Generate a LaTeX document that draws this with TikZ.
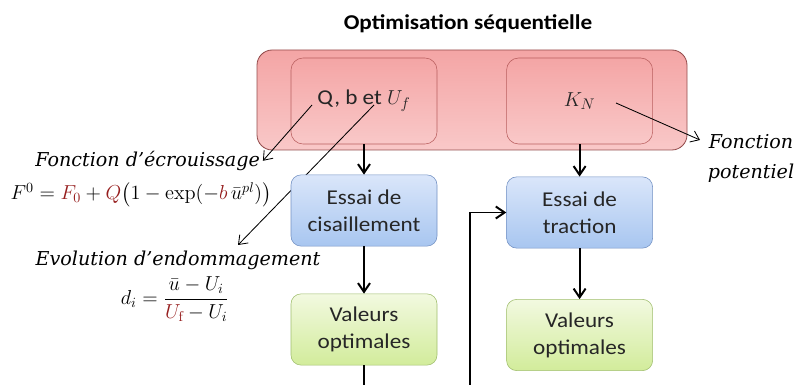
\documentclass[tikz,border=0pt]{standalone}
\usepackage{amsmath}
\usepackage{fontspec}
\newfontfamily\calibri[FakeStretch=1.1]{Carlito}
\newfontfamily\notefont{DejaVu Serif}
\usetikzlibrary{arrows.meta}
\definecolor{darkred}{RGB}{150,30,30}
\definecolor{redline}{RGB}{185,95,95}
\definecolor{redtop}{RGB}{244,165,165}
\definecolor{redbot}{RGB}{249,200,200}
\definecolor{blueline}{RGB}{115,145,195}
\definecolor{bluetop}{RGB}{218,230,250}
\definecolor{bluebot}{RGB}{168,198,240}
\definecolor{greenline}{RGB}{160,190,110}
\definecolor{greentop}{RGB}{242,249,224}
\definecolor{greenbot}{RGB}{210,236,155}

\begin{document}
\begin{tikzpicture}[
    box/.style={draw, rounded corners=0.25cm, minimum width=3.65cm, minimum height=1.78cm, align=center, text=black!85, font=\calibri\fontsize{15}{19.2}\selectfont},
    redbox/.style={box, draw=redline, top color=redtop, bottom color=redbot, rounded corners=0.3cm, minimum height=2.15cm},
    bluebox/.style={box, draw=blueline, top color=bluetop, bottom color=bluebot},
    greenbox/.style={box, draw=greenline, top color=greentop, bottom color=greenbot},
    note/.style={font=\notefont\fontsize{13.6}{21.3}\selectfont\itshape, align=center, inner sep=0pt},
    formula/.style={font=\fontsize{14.5}{18}\selectfont, inner sep=0pt},
    arrow/.style={-{Straight Barb[length=2.2mm, width=3mm]}, line width=1.4pt},
    link/.style={line width=1.4pt},
    pointer/.style={-{Straight Barb[length=2mm, width=3mm]}, line width=0.6pt},
]
\useasboundingbox (0,0) rectangle (19.95,-9.625);

\node[font=\calibri\bfseries\fontsize{15}{17}\selectfont] (title) at (11.7,-0.6) {Optimisation séquentielle};

% parametres a optimiser
\draw[draw=redline!80!black, top color=redtop, bottom color=redbot, rounded corners=0.38cm, line width=0.6pt]
    (6.425,-1.25) rectangle (17.175,-3.75);
\node[redbox] (params) at (9.1,-2.525) {Q, b et $U_f$};
\node[redbox] (kn) at (14.49,-2.525) {$K_N$};

% annotations
\node[note] (ecr) at (3.69,-4.02) {Fonction d’écrouissage};
\node[formula] (feq) at (3.525,-4.86) {$F^0 = \textcolor{darkred}{F_0} + \textcolor{darkred}{Q}\bigl(1 - \exp(-\textcolor{darkred}{b}\,\bar{u}^{pl})\bigr)$};
\node[note] (endo) at (4.45,-6.52) {Evolution d’endommagement};
\node[formula] (deq) at (4.375,-7.48) {$d_i = \dfrac{\bar{u} - U_i}{\textcolor{darkred}{U_{\mathrm{f}}} - U_i}$};
\node[note] (pot) at (18.775,-3.97) {Fonction\\potentiel};

\coordinate (q) at (7.8,-2.625);
\coordinate (uf) at (9.35,-2.625);
\coordinate (k) at (15.4,-2.575);
\coordinate (endotip) at (5.95,-6.125);
\coordinate (pottip) at (17.5,-3.5);
\draw[pointer] (q) -- ([xshift=2pt]ecr.east);
\draw[pointer] (uf) -- (endotip);
\draw[pointer] (k) -- (pottip);

% essais
\node[bluebox] (cis) at (9.1,-5.2625) {Essai de\\cisaillement};
\node[greenbox] (val1) at (9.1,-8.2375) {Valeurs\\optimales};
\node[bluebox] (tra) at (14.49,-5.3125) {Essai de\\traction};
\node[greenbox] (val2) at (14.49,-8.375) {Valeurs\\optimales};

\coordinate (out) at (9.1,-9.625);
\coordinate (back) at (11.75,-9.625);

\draw[arrow] (params) -- (cis);
\draw[arrow] (cis) -- (val1);
\draw[link] (val1) -- (out);
\draw[arrow] (kn) -- (tra);
\draw[arrow] (tra) -- (val2);
\draw[arrow] (back) |- (tra.west);

\end{tikzpicture}
\end{document}
